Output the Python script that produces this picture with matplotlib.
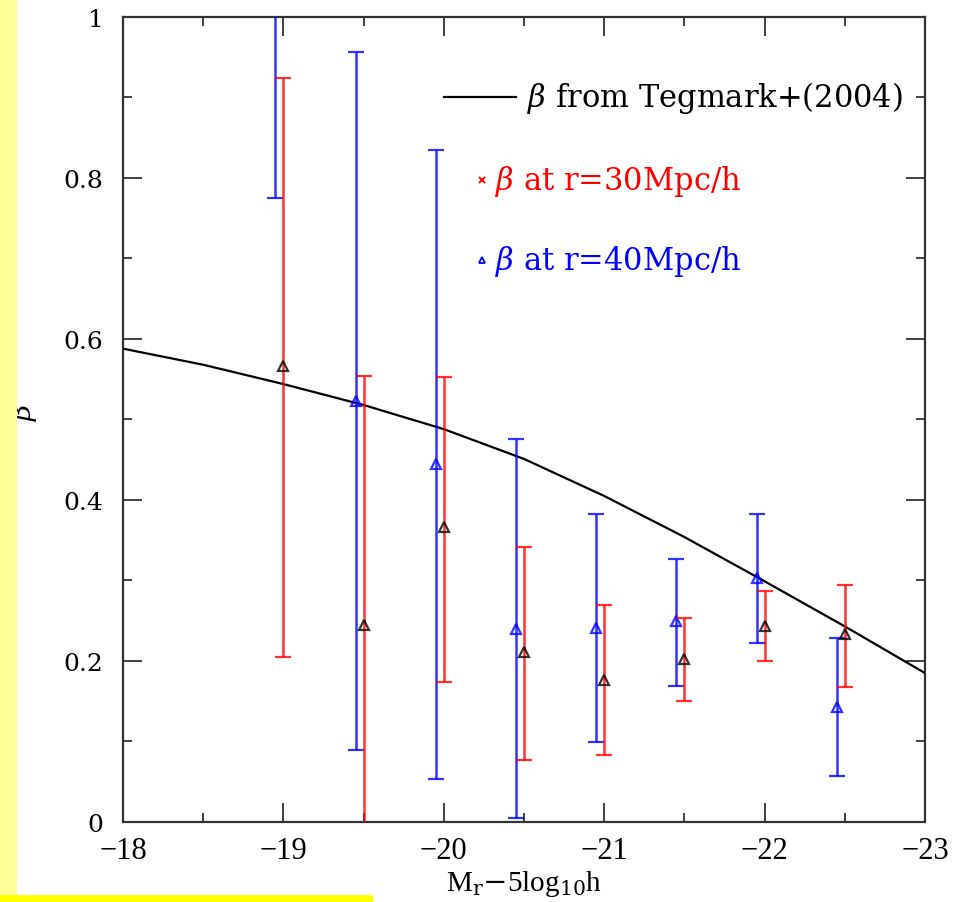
import matplotlib.pyplot as plt
import matplotlib.patches as patches
from matplotlib.ticker import MultipleLocator, FuncFormatter

plt.rcParams['mathtext.fontset'] = 'dejavuserif'

# Tegmark+(2004) beta curve vs magnitude
curve_mag = [-18.0, -18.5, -19.0, -19.5, -20.0, -20.5, -21.0, -21.5, -22.0, -22.5, -23.0]
curve_beta = [0.588, 0.568, 0.544, 0.518, 0.488, 0.451, 0.405, 0.354, 0.299, 0.243, 0.185]

# beta at r=30Mpc/h
mag_30 = [-19.0, -19.5, -20.0, -20.5, -21.0, -21.5, -22.0, -22.5]
beta_30 = [0.566, 0.245, 0.366, 0.211, 0.177, 0.202, 0.244, 0.233]
lo_30 = [0.205, -0.10, 0.174, 0.077, 0.083, 0.150, 0.200, 0.168]
hi_30 = [0.924, 0.554, 0.553, 0.342, 0.270, 0.253, 0.287, 0.294]

# beta at r=40Mpc/h
mag_40 = [-18.95, -19.45, -19.95, -20.45, -20.95, -21.45, -21.95, -22.45]
beta_40 = [1.08, 0.523, 0.445, 0.240, 0.241, 0.250, 0.303, 0.143]
lo_40 = [0.775, 0.089, 0.053, 0.005, 0.099, 0.169, 0.222, 0.057]
hi_40 = [1.40, 0.957, 0.835, 0.476, 0.383, 0.327, 0.383, 0.229]

fig = plt.figure(figsize=(9.70, 9.03), dpi=100)

# yellow slide decorations
fig.patches.append(patches.Rectangle((0, 0.008), 0.018, 0.992, transform=fig.transFigure,
                                     facecolor='#ffff99', edgecolor='none', zorder=0))
fig.patches.append(patches.Rectangle((0, 0), 0.385, 0.008, transform=fig.transFigure,
                                     facecolor='#ffff00', edgecolor='none', zorder=0))

ax = fig.add_axes([0.1268, 0.0886, 0.8268, 0.8915])

ax.plot(curve_mag, curve_beta, color='black', lw=1.6, zorder=3)

err_30 = [[b - l for b, l in zip(beta_30, lo_30)], [h - b for b, h in zip(beta_30, hi_30)]]
err_40 = [[b - l for b, l in zip(beta_40, lo_40)], [h - b for b, h in zip(beta_40, hi_40)]]

ax.errorbar(mag_40, beta_40, yerr=err_40, fmt='^', color='blue', ecolor='blue', elinewidth=1.8,
            capsize=6, capthick=1.8, mfc='none', mec='blue', mew=1.6, ms=7, alpha=0.8, zorder=4)
ax.errorbar(mag_30, beta_30, yerr=err_30, fmt='^', color='red', ecolor='red', elinewidth=1.8,
            capsize=6, capthick=1.8, mfc='none', mec='black', mew=1.6, ms=7, alpha=0.8, zorder=5)

ax.set_xlim(-18, -23)
ax.set_ylim(0, 1)

ax.xaxis.set_major_locator(MultipleLocator(1))
ax.xaxis.set_minor_locator(MultipleLocator(0.5))
ax.yaxis.set_major_locator(MultipleLocator(0.2))
ax.yaxis.set_minor_locator(MultipleLocator(0.1))
ax.xaxis.set_major_formatter(FuncFormatter(lambda v, p: '\u2212%d' % abs(round(v))))
ax.yaxis.set_major_formatter(FuncFormatter(lambda v, p: '%g' % round(v, 1)))

ax.tick_params(which='both', direction='in', top=True, right=True, width=1.3, color='#333333')
ax.tick_params(which='major', length=13.5)
ax.tick_params(which='minor', length=6.5)
ax.tick_params(axis='x', which='major', pad=10, labelsize=22)
ax.tick_params(axis='y', which='major', pad=14, labelsize=18)
for lab in ax.get_xticklabels():
    lab.set_family('Liberation Serif')
for lab in ax.get_yticklabels():
    lab.set_family('DejaVu Serif')
for sp in ax.spines.values():
    sp.set_linewidth(1.6)
    sp.set_color('#333333')

ax.set_xlabel(r'M$_{\rm r}$$-$5log$_{10}$h', family='Liberation Serif', fontsize=21, labelpad=2)
ax.set_ylabel(r'$\beta$', fontsize=20)
ax.yaxis.set_label_coords(-0.105, 0.51)

# legend entries drawn by hand
ax.plot([-20.0, -20.45], [0.901, 0.901], color='black', lw=1.6, zorder=3)
ax.text(-20.52, 0.901, r'$\beta$ from Tegmark+(2004)', family='DejaVu Serif', fontsize=22,
        va='center', ha='left', color='black')
ax.plot([-20.24], [0.797], marker='x', color='red', ms=5, mew=1.4, ls='none')
ax.text(-20.32, 0.797, r'$\beta$ at r=30Mpc/h', family='DejaVu Serif', fontsize=22,
        va='center', ha='left', color='red')
ax.plot([-20.24], [0.698], marker='^', color='blue', mfc='none', mew=1.3, ms=5, ls='none')
ax.text(-20.32, 0.698, r'$\beta$ at r=40Mpc/h', family='DejaVu Serif', fontsize=22,
        va='center', ha='left', color='blue')

fig.savefig('out.png', dpi=100)
